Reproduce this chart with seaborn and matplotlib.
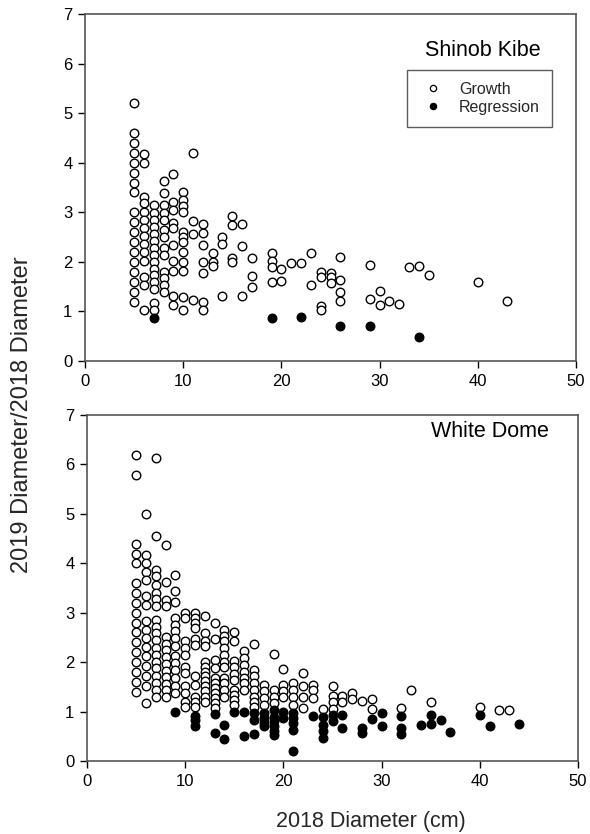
import matplotlib
matplotlib.use("Agg")
import matplotlib.pyplot as plt
from matplotlib.lines import Line2D
import seaborn as sns
import pandas as pd

# ---------------- data (columns: 2018 diameter -> list of ratios) ----------------
shinob_growth = {
    5: [5.2, 4.6, 4.4, 4.2, 4.0, 3.8, 3.6, 3.4, 3.0, 2.8, 2.6, 2.4, 2.2, 2.0, 1.8, 1.6, 1.4, 1.2],
    6: [4.17, 4.0, 3.31, 3.18, 3.0, 2.84, 2.68, 2.52, 2.37, 2.2, 2.01, 1.69, 1.53, 1.03],
    7: [3.15, 2.98, 2.84, 2.71, 2.57, 2.43, 2.28, 2.14, 2.0, 1.86, 1.73, 1.59, 1.45, 1.16, 1.03],
    8: [3.63, 3.38, 3.15, 2.98, 2.84, 2.64, 2.51, 2.27, 2.14, 1.80, 1.67, 1.53, 1.40],
    9: [3.78, 3.2, 3.05, 2.79, 2.68, 2.34, 2.01, 1.81, 1.31, 1.12],
    10: [3.41, 3.25, 3.13, 3.0, 2.61, 2.51, 2.41, 2.2, 2.0, 1.82, 1.30, 1.03],
    11: [4.2, 2.82, 2.57, 1.23],
    12: [2.76, 2.59, 2.34, 2.0, 1.77, 1.2, 1.03],
    13: [2.17, 2.0, 1.92],
    14: [2.51, 2.37, 1.31],
    15: [2.93, 2.74, 2.07, 2.0],
    16: [2.76, 2.32, 1.32],
    17: [2.07, 1.72, 1.49],
    19: [2.17, 2.02, 1.89, 1.6],
    20: [1.85, 1.62],
    21: [1.97],
    22: [1.97],
    23: [2.18, 1.53],
    24: [1.80, 1.69, 1.11, 1.03],
    25: [1.78, 1.69, 1.58],
    26: [2.09, 1.63, 1.40, 1.22],
    29: [1.94, 1.26],
    30: [1.42, 1.12],
    31: [1.21],
    32: [1.14],
    33: [1.90],
    34: [1.92],
    35: [1.73],
    40: [1.60],
    43: [1.21],
}
shinob_regression = {
    7: [0.87], 19: [0.86], 22: [0.88], 26: [0.71], 29: [0.71], 34: [0.49],
}

white_growth = {
    5: [6.19, 5.79, 4.39, 4.19, 4.0, 3.6, 3.4, 3.2, 3.0, 2.8, 2.6, 2.4, 2.2, 2.0, 1.8, 1.6, 1.4],
    6: [4.99, 4.16, 4.0, 3.83, 3.66, 3.33, 3.16, 2.83, 2.66, 2.49, 2.31, 2.12, 1.93, 1.71, 1.51, 1.17],
    7: [6.13, 4.56, 3.87, 3.74, 3.57, 3.40, 3.27, 3.13, 2.86, 2.72, 2.59, 2.45, 2.29, 2.15, 2.01,
        1.88, 1.71, 1.58, 1.44, 1.29],
    8: [4.37, 3.62, 3.25, 3.13, 2.51, 2.37, 2.24, 2.10, 1.97, 1.83, 1.70, 1.56, 1.43, 1.29],
    9: [3.77, 3.43, 3.21, 2.89, 2.76, 2.62, 2.49, 2.32, 2.12, 1.98, 1.85, 1.68, 1.51, 1.37],
    10: [3.0, 2.89, 2.42, 2.29, 2.15, 1.91, 1.78, 1.51, 1.37, 1.2, 1.1],
    11: [3.0, 2.89, 2.79, 2.69, 2.47, 2.35, 1.72, 1.54, 1.30, 1.20, 1.10],
    12: [2.93, 2.59, 2.42, 2.32, 2.01, 1.91, 1.81, 1.71, 1.61, 1.51, 1.41, 1.30, 1.20],
    13: [2.79, 2.47, 2.05, 1.88, 1.68, 1.58, 1.47, 1.37, 1.27, 1.17, 1.07],
    14: [2.66, 2.52, 2.42, 2.29, 2.15, 2.01, 1.91, 1.68, 1.58, 1.44, 1.30],
    15: [2.60, 2.42, 2.03, 1.90, 1.76, 1.63, 1.44, 1.34, 1.24, 1.14],
    16: [2.22, 2.08, 1.95, 1.81, 1.68, 1.58, 1.44],
    17: [2.37, 1.85, 1.71, 1.58, 1.44, 1.30, 1.20, 1.10],
    18: [1.54, 1.41, 1.27, 1.14],
    19: [2.17, 1.44, 1.30, 1.17],
    20: [1.86, 1.54, 1.41, 1.30],
    21: [1.58, 1.43, 1.30, 1.14],
    22: [1.78, 1.51, 1.30, 1.07],
    23: [1.54, 1.44, 1.27],
    24: [1.05],
    25: [1.52, 1.32, 1.20, 1.05],
    26: [1.32, 1.20],
    27: [1.37, 1.26],
    28: [1.22],
    29: [1.25, 1.05],
    32: [1.08],
    33: [1.43],
    35: [1.20],
    40: [1.10],
    42: [1.03],
    43: [1.03],
}
white_regression = {
    9: [1.0],
    11: [0.91, 0.82, 0.71],
    13: [0.95, 0.56],
    14: [0.73, 0.44],
    15: [1.0],
    16: [1.0, 0.51],
    17: [0.97, 0.83, 0.55],
    18: [0.97, 0.87, 0.76, 0.70],
    19: [1.03, 0.90, 0.80, 0.70, 0.61, 0.53],
    20: [1.0, 0.87],
    21: [0.98, 0.87, 0.76, 0.63, 0.20],
    23: [0.92],
    24: [0.90, 0.73, 0.61, 0.46],
    25: [0.93, 0.80],
    26: [0.93, 0.66],
    28: [0.66, 0.57],
    29: [0.85],
    30: [0.98, 0.71],
    32: [0.92, 0.66, 0.55],
    34: [0.72],
    35: [0.93, 0.75],
    36: [0.82],
    37: [0.59],
    40: [0.93],
    41: [0.71],
    44: [0.75],
}

panel_titles = ["Shinob Kibe", "White Dome"]
legend_labels = ["Growth", "Regression"]
x_ticks = [0, 10, 20, 30, 40, 50]
y_ticks = [0, 1, 2, 3, 4, 5, 6, 7]


def to_frame(cols):
    xs, ys = [], []
    for k, vals in cols.items():
        for v in vals:
            xs.append(k)
            ys.append(v)
    return pd.DataFrame({"d2018": xs, "ratio": ys})


# ---------------- plotting ----------------
sns.set_theme(style="white")
plt.rcParams["font.family"] = ["Liberation Sans", "DejaVu Sans"]

fig = plt.figure(figsize=(5.9, 8.34), dpi=100)
ax1 = fig.add_axes([85 / 590, 1 - 361 / 834, 491 / 590, 347 / 834])
ax2 = fig.add_axes([87 / 590, 1 - 761 / 834, 491 / 590, 346 / 834])

panels = [
    (ax1, shinob_growth, shinob_regression, panel_titles[0], (0.81, 0.896)),
    (ax2, white_growth, white_regression, panel_titles[1], (0.82, 0.951)),
]

for ax, g, r, title, tpos in panels:
    dg = to_frame(g)
    dr = to_frame(r)
    sns.scatterplot(data=dg, x="d2018", y="ratio", ax=ax, marker="o", s=38,
                    facecolor="white", edgecolor="black", linewidth=1.0, zorder=3)
    sns.scatterplot(data=dr, x="d2018", y="ratio", ax=ax, marker="o", s=38,
                    facecolor="black", edgecolor="black", linewidth=1.0, zorder=4)
    ax.set_xlim(0, 50)
    ax.set_ylim(0, 7)
    ax.set_xticks(x_ticks)
    ax.set_yticks(y_ticks)
    ax.set_xlabel("")
    ax.set_ylabel("")
    ax.tick_params(axis="both", which="major", direction="out", length=5, width=1,
                   labelsize=12, colors="black", bottom=True, left=True,
                   top=False, right=False, pad=4)
    for sp in ax.spines.values():
        sp.set_color("#555555")
        sp.set_linewidth(1.2)
    ax.text(tpos[0], tpos[1], title, transform=ax.transAxes, ha="center", va="center",
            fontsize=15.5, color="black")

handles = [
    Line2D([], [], linestyle="none", marker="o", markersize=4.5, markerfacecolor="white",
           markeredgecolor="black", markeredgewidth=0.9),
    Line2D([], [], linestyle="none", marker="o", markersize=4.5, markerfacecolor="black",
           markeredgecolor="black", markeredgewidth=0.9),
]
leg = ax1.legend(handles, legend_labels, loc="upper right", bbox_to_anchor=(0.951, 0.839),
                 fontsize=11.5, frameon=True, fancybox=False, borderpad=0.75,
                 handletextpad=0.8, labelspacing=0.2, handlelength=1.7, borderaxespad=0)
leg.get_frame().set_edgecolor("#333333")
leg.get_frame().set_linewidth(1.0)

fig.text(22 / 590, 1 - 415 / 834, "2019 Diameter/2018 Diameter", rotation=90,
         ha="center", va="center", fontsize=17)
fig.text(371 / 590, 1 - 822 / 834, "2018 Diameter (cm)", ha="center", va="center",
         fontsize=15.5)

fig.savefig("out.png", dpi=100)
